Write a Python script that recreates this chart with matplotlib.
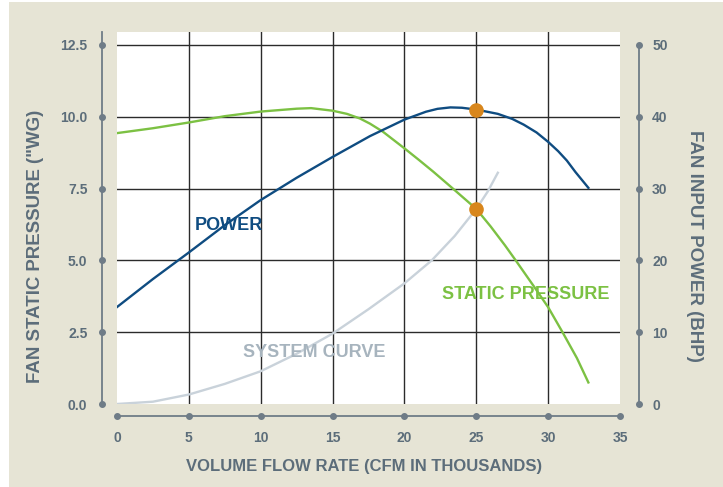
import matplotlib
matplotlib.use('Agg')
import matplotlib.pyplot as plt
import matplotlib.transforms as mtrans
from matplotlib.patches import Rectangle

# curve readings (flow in thousands of CFM)
sp_flow = [0, 2.5, 5, 7.5, 10, 12.5, 13.5, 15, 16.0, 16.9, 17.6, 18.5, 20, 21, 22, 23, 23.6,
           25, 26, 27, 27.7, 29, 30, 31, 32, 32.8]
sp_wg = [9.43, 9.6, 9.8, 10.02, 10.18, 10.28, 10.3, 10.21, 10.1, 9.94, 9.76, 9.48, 8.9, 8.5,
         8.09, 7.66, 7.4, 6.79, 6.18, 5.52, 5.03, 4.1, 3.37, 2.5, 1.6, 0.75]

pw_flow = [0, 2.5, 5, 7.5, 10, 12.5, 15, 17.6, 20, 21.5, 22.3, 23.2, 24, 25, 26.5, 27.5, 28.3,
           29.2, 30, 30.7, 31.3, 31.9, 32.8]
pw_bhp = [13.5, 17.4, 21.1, 24.9, 28.4, 31.5, 34.4, 37.3, 39.6, 40.7, 41.1, 41.3, 41.25, 41.0,
          40.4, 39.7, 38.9, 37.8, 36.5, 35.2, 33.9, 32.3, 30.1]

sys_flow = [0, 2.5, 5, 7.5, 10, 12.5, 15, 17.5, 20, 21.9, 23.5, 25, 25.8, 26.5]
sys_wg = [0, 0.08, 0.33, 0.7, 1.14, 1.75, 2.45, 3.3, 4.2, 5.0, 5.85, 6.79, 7.4, 8.05]

op_flow = 25
op_wg = 6.79
op_bhp = 41.0

x_ticks = [0, 5, 10, 15, 20, 25, 30, 35]
y_ticks = [0, 2.5, 5, 7.5, 10, 12.5]
y2_ticks = [0, 10, 20, 30, 40, 50]

bg = '#e6e4d5'
txt = '#5c6d7a'
spine_c = '#6f7c87'
blue = '#0f4c81'
green = '#7cc143'
grey = '#c9d2da'
orange = '#d8861c'

plt.rcParams['font.family'] = ['Liberation Sans', 'DejaVu Sans']
plt.rcParams['font.weight'] = 'bold'

W, H = 723, 487
fig = plt.figure(figsize=(W / 100, H / 100), dpi=100)
fig.patch.set_facecolor('white')
fig.patches.append(Rectangle((9 / W, 0), 1, 1 - 2 / H, transform=fig.transFigure,
                             facecolor=bg, edgecolor='none', zorder=-10))

ax = fig.add_axes([117 / W, 1 - 404 / H, 503 / W, 372 / H])
ax.set_facecolor('white')
ytop = 12.95
ax.set_xlim(0, 35)
ax.set_ylim(0, ytop)

for v in x_ticks[1:-1]:
    ax.axvline(v, color='#2b2b2b', lw=1.0, zorder=1)
for v in y_ticks[1:]:
    ax.axhline(v, color='#2b2b2b', lw=1.0, zorder=1)

ax2 = ax.twinx()
ax2.set_ylim(0, ytop * 4)

ax.plot(sys_flow, sys_wg, color=grey, lw=1.7, zorder=3, solid_joinstyle='round')
ax.plot(sp_flow, sp_wg, color=green, lw=1.7, zorder=4, solid_joinstyle='round')
ax2.plot(pw_flow, pw_bhp, color=blue, lw=1.7, zorder=4, solid_joinstyle='round')
ax.plot([op_flow], [op_wg], 'o', color=orange, ms=9.5, zorder=6)
ax2.plot([op_flow], [op_bhp], 'o', color=orange, ms=9.5, zorder=6)

# detached spines
for a in (ax, ax2):
    for s in a.spines.values():
        s.set_visible(False)
ax.spines['left'].set_visible(True)
ax.spines['left'].set_position(('outward', 10.8))
ax.spines['left'].set_bounds(0, ytop)
ax.spines['bottom'].set_visible(True)
ax.spines['bottom'].set_position(('outward', 8.4))
ax.spines['bottom'].set_bounds(0, 35)
ax2.spines['right'].set_visible(True)
ax2.spines['right'].set_position(('outward', 13.5))
ax2.spines['right'].set_bounds(0, 50)
for s in (ax.spines['left'], ax.spines['bottom'], ax2.spines['right']):
    s.set_color(spine_c)
    s.set_linewidth(1.3)

ax.set_xticks(x_ticks)
ax.set_xticklabels([str(v) for v in x_ticks], fontweight='bold')
ax.set_yticks(y_ticks)
ax.set_yticklabels(['%.1f' % v for v in y_ticks], fontweight='bold')
ax2.set_yticks(y2_ticks)
ax2.set_yticklabels([str(v) for v in y2_ticks], fontweight='bold')
ax.tick_params(axis='x', length=0, pad=11, labelsize=10, labelcolor=txt)
ax.tick_params(axis='y', length=0, pad=10.5, labelsize=10, labelcolor=txt)
ax2.tick_params(axis='y', length=0, pad=9.6, labelsize=10, labelcolor=txt)

# dots on the spines
left_tr = ax.transData + mtrans.ScaledTranslation(-15.3 / 100, 0, fig.dpi_scale_trans)
ax.plot([0] * len(y_ticks), y_ticks, 'o', color=spine_c, ms=4, transform=left_tr, clip_on=False)
bot_tr = ax.transData + mtrans.ScaledTranslation(0, -11.7 / 100, fig.dpi_scale_trans)
ax.plot(x_ticks, [0] * len(x_ticks), 'o', color=spine_c, ms=4, transform=bot_tr, clip_on=False)
right_tr = mtrans.blended_transform_factory(ax2.transAxes, ax2.transData) + \
    mtrans.ScaledTranslation(18.7 / 100, 0, fig.dpi_scale_trans)
ax2.plot([1] * len(y2_ticks), y2_ticks, 'o', color=spine_c, ms=4, transform=right_tr, clip_on=False)

# curve labels
ax.text(5.4, 6.2, 'POWER', color=blue, fontsize=13, va='center', ha='left', zorder=7)
ax.text(22.6, 3.8, 'STATIC PRESSURE', color=green, fontsize=13, va='center', ha='left', zorder=7)
ax.text(8.75, 1.78, 'SYSTEM CURVE', color='#a7b4be', fontsize=13, va='center', ha='left', zorder=7)

# axis titles
fig.text(364 / W, 1 - 467 / H, 'VOLUME FLOW RATE (CFM IN THOUSANDS)', color=txt,
         fontsize=12, ha='center', va='center')
fig.text(35.5 / W, 1 - 246 / H, 'FAN STATIC PRESSURE ("WG)', color=txt,
         fontsize=13.4, ha='center', va='center', rotation=90)
fig.text(695 / W, 1 - 245.5 / H, 'FAN INPUT POWER (BHP)', color=txt,
         fontsize=13.5, ha='center', va='center', rotation=270)

fig.savefig('out.png', dpi=100, facecolor=fig.get_facecolor())
